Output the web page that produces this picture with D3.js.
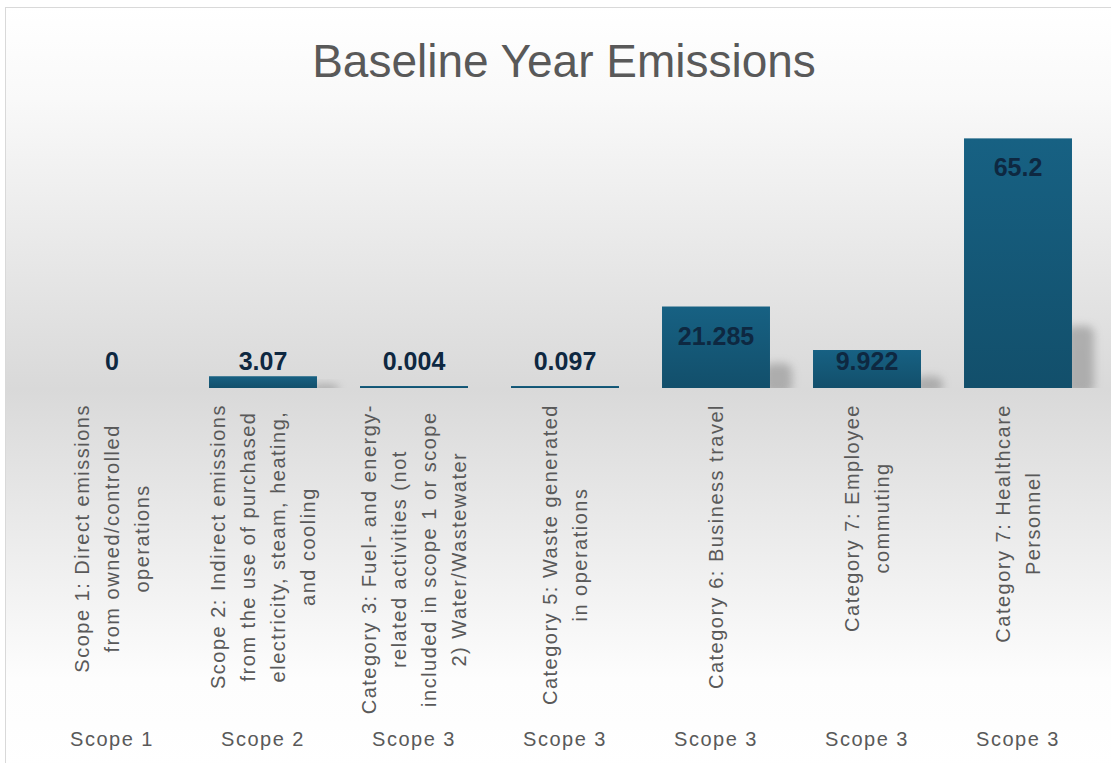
<!DOCTYPE html>
<html>
<head>
<meta charset="utf-8">
<script src="https://cdn.jsdelivr.net/npm/d3@7"></script>
<style>
  html, body { margin: 0; padding: 0; background: #ffffff; }
  svg { display: block; }
</style>
</head>
<body>
<svg id="chart" width="1111" height="763"></svg>
<script>
// Données du graphique
const categories = [
    ["Scope 1: Direct emissions", "from owned/controlled", "operations"],
    ["Scope 2: Indirect emissions", "from the use of purchased", "electricity, steam, heating,", "and cooling"],
    ["Category 3: Fuel- and energy-", "related activities (not", "included in scope 1 or scope", "2) Water/Wastewater"],
    ["Category 5: Waste generated", "in operations"],
    ["Category 6: Business travel"],
    ["Category 7: Employee", "commuting"],
    ["Category 7: Healthcare", "Personnel"]
];
const scopes = ["Scope 1", "Scope 2", "Scope 3", "Scope 3", "Scope 3", "Scope 3", "Scope 3"];
const values = [0, 3.07, 0.004, 0.097, 21.285, 9.922, 65.2];
const labels = ["0", "3.07", "0.004", "0.097", "21.285", "9.922", "65.2"];

const svg = d3.select("#chart");
const W = +svg.attr("width");
const H = +svg.attr("height");

const plot = { left: 36.5, right: 1093.5, top: 120, base: 388 };
const keys = categories.map((d, i) => "c" + i);

const defs = svg.append("defs");

// Dégradé du fond
const bg = defs.append("linearGradient")
    .attr("id", "bg").attr("x1", 0).attr("y1", 0).attr("x2", 0).attr("y2", 1);
[[0, "#ffffff"], [0.12, "#f9f9f9"], [0.5, "#d9d9d9"], [0.88, "#fdfdfd"], [1, "#ffffff"]]
    .forEach(s => bg.append("stop").attr("offset", s[0]).attr("stop-color", s[1]));

// Dégradé des barres
const barGrad = defs.append("linearGradient")
    .attr("id", "barGrad").attr("x1", 0).attr("y1", 0).attr("x2", 0).attr("y2", 1);
barGrad.append("stop").attr("offset", 0).attr("stop-color", "#176183");
barGrad.append("stop").attr("offset", 1).attr("stop-color", "#124f6b");

defs.append("filter").attr("id", "blur")
    .attr("x", "-50%").attr("y", "-50%").attr("width", "200%").attr("height", "200%")
    .append("feGaussianBlur").attr("stdDeviation", 4);

defs.append("clipPath").attr("id", "aboveBase")
    .append("rect").attr("x", 0).attr("y", 0).attr("width", W).attr("height", plot.base);

// Fond et bordure
svg.append("rect")
    .attr("x", 5.5).attr("y", 7.5)
    .attr("width", W).attr("height", H)
    .attr("fill", "url(#bg)")
    .attr("stroke", "#d9d9d9");

// Titre
svg.append("text")
    .attr("x", 564).attr("y", 77)
    .attr("text-anchor", "middle")
    .style("font-family", "Liberation Sans, Arial, sans-serif")
    .style("font-size", "46px")
    .style("fill", "#595959")
    .text("Baseline Year Emissions");

// Échelles
const x = d3.scaleBand()
    .domain(keys)
    .range([plot.left, plot.right])
    .paddingInner(0.285)
    .paddingOuter(0.1425);

const y = d3.scaleLinear()
    .domain([0, 70])
    .range([plot.base, plot.top]);

const shadowH = d => Math.min((plot.base - y(d)) * 0.3, 62);

// Ombres portées (seulement pour les barres visibles)
svg.append("g")
    .attr("clip-path", "url(#aboveBase)")
    .selectAll("rect")
    .data(values.map((v, i) => ({ v, k: keys[i] })).filter(d => plot.base - y(d.v) > 8))
    .join("rect")
    .attr("x", d => x(d.k) + x.bandwidth() - 6)
    .attr("y", d => plot.base - shadowH(d.v))
    .attr("width", 28)
    .attr("height", d => shadowH(d.v) + 6)
    .attr("rx", 8)
    .attr("fill", "#9a9a9a")
    .attr("opacity", 0.7)
    .attr("filter", "url(#blur)");

// Barres (hauteur minimale de 2px comme dans Excel)
svg.append("g")
    .selectAll("rect")
    .data(values)
    .join("rect")
    .attr("x", (d, i) => x(keys[i]))
    .attr("width", x.bandwidth())
    .attr("y", d => d > 0 ? Math.min(y(d), plot.base - 2) : plot.base)
    .attr("height", d => d > 0 ? Math.max(plot.base - y(d), 2) : 0)
    .attr("fill", "url(#barGrad)");

// Étiquettes de données
svg.append("g")
    .selectAll("text")
    .data(values)
    .join("text")
    .attr("x", (d, i) => x(keys[i]) + x.bandwidth() / 2)
    .attr("y", d => (plot.base - y(d) > 60 ? y(d) + 29 : plot.base - 27))
    .attr("dy", "0.36em")
    .attr("text-anchor", "middle")
    .style("font-family", "Liberation Sans, Arial, sans-serif")
    .style("font-weight", "bold")
    .style("font-size", "25px")
    .style("fill", "#0e2841")
    .text((d, i) => labels[i]);

// Axe des catégories (sans ligne ni graduations)
const xAxis = svg.append("g")
    .attr("transform", `translate(0, ${plot.base})`)
    .call(d3.axisBottom(x).tickSize(0).tickFormat(""));
xAxis.select(".domain").remove();

const lineGap = 30;
const topGap = 16;
xAxis.selectAll(".tick").each(function (k, i) {
    const tick = d3.select(this);
    const lines = categories[i];
    const t = tick.append("text")
        .attr("transform", "rotate(-90)")
        .attr("text-anchor", "middle")
        .style("font-family", "Liberation Sans, Arial, sans-serif")
        .style("font-size", "20px")
        .style("letter-spacing", "1.5px")
        .style("fill", "#595959");
    const spans = lines.map((l, j) => t.append("tspan")
        .attr("y", (j - (lines.length - 1) / 2) * lineGap)
        .attr("dy", "0.35em")
        .text(l));
    const maxW = d3.max(spans, s => s.node().getComputedTextLength());
    spans.forEach(s => s.attr("x", -(topGap + maxW / 2)));

    // Deuxième niveau : Scope
    tick.append("text")
        .attr("y", 351)
        .attr("dy", "0.35em")
        .attr("text-anchor", "middle")
        .style("font-family", "Liberation Sans, Arial, sans-serif")
        .style("font-size", "20px")
        .style("letter-spacing", "1.5px")
        .style("fill", "#595959")
        .text(scopes[i]);
});
</script>
</body>
</html>
